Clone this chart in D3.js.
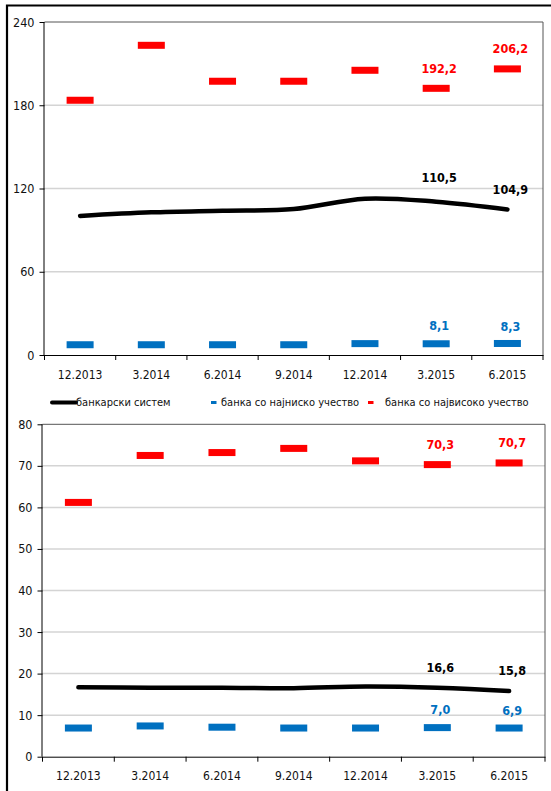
<!DOCTYPE html>
<html>
<head>
<meta charset="utf-8">
<script src="https://cdn.jsdelivr.net/npm/d3@7"></script>
<style>
  html, body { margin: 0; padding: 0; background: #fff; }
  svg text { font-family: "DejaVu Sans Condensed", "DejaVu Sans", sans-serif; font-stretch: condensed; }
</style>
</head>
<body>
<svg id="chart" width="551" height="791"></svg>
<script>
// Periods on the horizontal axis
const categories = ["12.2013", "3.2014", "6.2014", "9.2014", "12.2014", "3.2015", "6.2015"];

// Upper panel series
const systemTop = [100.2, 102.8, 104.0, 105.2, 112.7, 110.5, 104.9];
const lowestTop = [7.4, 7.4, 7.4, 7.4, 8.2, 8.1, 8.3];
const highestTop = [183.6, 223.2, 197.3, 197.3, 205.2, 192.2, 206.2];
const ticksTop = [0, 60, 120, 180, 240];

// Lower panel series
const systemBottom = [16.7, 16.6, 16.6, 16.5, 16.9, 16.6, 15.8];
const lowestBottom = [6.9, 7.4, 7.1, 6.9, 6.9, 7.0, 6.9];
const highestBottom = [61.2, 72.5, 73.2, 74.2, 71.2, 70.3, 70.7];
const ticksBottom = [0, 10, 20, 30, 40, 50, 60, 70, 80];

// Legend entries
const legendLabels = ["банкарски систем", "банка со најниско учество", "банка со највисоко учество"];

const RED = "#ff0000", BLUE = "#0070c0", BLACK = "#000000";
const fmt = v => d3.format(".1f")(v).replace(".", ",");

const svg = d3.select("#chart");

// Outer frame (left and top edges)
svg.append("path")
  .attr("d", "M7,800 L7,5.5 L560,5.5")
  .attr("fill", "none").attr("stroke", "#000").attr("stroke-width", 2.2);

function drawPanel(opt) {
  const g = svg.append("g");
  const x = d3.scaleBand().domain(categories).range([opt.left, opt.right]);
  const y = d3.scaleLinear().domain([0, opt.max]).range([opt.bottom, opt.top]);
  const cx = c => x(c) + x.bandwidth() / 2;

  // Gridlines
  g.selectAll("line.grid")
    .data(opt.ticks.filter(t => t > 0 && t < opt.max))
    .join("line")
    .attr("x1", opt.left).attr("x2", opt.right)
    .attr("y1", d => y(d)).attr("y2", d => y(d))
    .attr("stroke", "#d4d4d4").attr("stroke-width", 1.5);

  // Plot area border (top and right)
  g.append("path")
    .attr("d", `M${opt.left},${opt.top} L${opt.right},${opt.top} L${opt.right},${opt.bottom}`)
    .attr("fill", "none").attr("stroke", "#555").attr("stroke-width", 1);

  // Y axis
  const yAxis = g.append("g")
    .attr("transform", `translate(${opt.left},0)`)
    .call(d3.axisLeft(y).tickValues(opt.ticks).tickSize(5).tickPadding(5).tickFormat(d3.format("d")));
  yAxis.select(".domain").attr("stroke", "#000").attr("d", `M-0.5,${opt.bottom}V${opt.top}`);
  yAxis.selectAll("text").attr("font-size", 12.5).attr("fill", "#111")
    .attr("font-family", "\"DejaVu Sans Condensed\", \"DejaVu Sans\", sans-serif");

  // X axis: labels at band centres, ticks at band boundaries
  const xAxis = g.append("g")
    .attr("transform", `translate(0,${opt.bottom})`)
    .call(d3.axisBottom(x).tickSize(0).tickPadding(15));
  xAxis.select(".domain").attr("stroke", "#000");
  xAxis.selectAll("text").attr("font-size", 12).attr("fill", "#111")
    .attr("font-family", "\"DejaVu Sans Condensed\", \"DejaVu Sans\", sans-serif");
  const bounds = categories.map(c => x(c)).concat([opt.right]);
  g.selectAll("line.xtick").data(bounds).join("line")
    .attr("x1", d => d).attr("x2", d => d)
    .attr("y1", opt.bottom).attr("y2", opt.bottom + 5)
    .attr("stroke", "#000");

  // Series: lowest and highest share as short horizontal markers
  const mw = 27, mh = 7;
  [[opt.lowest, BLUE], [opt.highest, RED]].forEach(([vals, col]) => {
    g.selectAll(null).data(vals).join("rect")
      .attr("x", (d, i) => cx(categories[i]) - mw / 2)
      .attr("y", d => y(d) - mh / 2)
      .attr("width", mw).attr("height", mh)
      .attr("fill", col);
  });

  // Banking system line
  const line = d3.line()
    .x((d, i) => cx(categories[i]))
    .y(d => y(d))
    .curve(d3.curveCatmullRom.alpha(0.5));
  g.append("path")
    .datum(opt.system)
    .attr("d", line)
    .attr("fill", "none").attr("stroke", BLACK)
    .attr("stroke-width", 4.5).attr("stroke-linecap", "round");

  // Value labels for the last two periods (offset above each mark)
  const n = categories.length;
  [[opt.system, BLACK, opt.sysOffset], [opt.lowest, BLUE, [18, 17]], [opt.highest, RED, [20, 20]]]
    .forEach(([vals, col, off]) => {
      [n - 2, n - 1].forEach((i, k) => {
        g.append("text")
          .attr("x", cx(categories[i]) + 3)
          .attr("y", y(vals[i]) - off[k])
          .attr("dy", "0.35em")
          .attr("text-anchor", "middle")
          .attr("font-size", 12.5).attr("font-weight", "bold")
          .attr("fill", col)
          .text(fmt(vals[i]));
      });
    });
  return { x, y };
}

drawPanel({
  left: 44.5, right: 543, top: 22, bottom: 355, max: 240,
  ticks: ticksTop, system: systemTop, lowest: lowestTop, highest: highestTop,
  sysOffset: [24, 20]
});

drawPanel({
  left: 42.5, right: 545, top: 424.3, bottom: 756.7, max: 80,
  ticks: ticksBottom, system: systemBottom, lowest: lowestBottom, highest: highestBottom,
  sysOffset: [20, 20]
});

// Legend below the upper panel
const leg = svg.append("g").attr("transform", "translate(0,402.5)");
leg.append("line").attr("x1", 52).attr("x2", 76).attr("y1", 0).attr("y2", 0)
  .attr("stroke", BLACK).attr("stroke-width", 4).attr("stroke-linecap", "round");
leg.append("rect").attr("x", 211).attr("y", -1.5).attr("width", 5.5).attr("height", 3).attr("fill", BLUE);
leg.append("rect").attr("x", 368).attr("y", -1.5).attr("width", 5.5).attr("height", 3).attr("fill", RED);
leg.selectAll("text.legend").data(legendLabels).join("text")
  .attr("x", (d, i) => [76, 221, 385][i]).attr("y", 0).attr("dy", "0.35em")
  .attr("font-size", 11).attr("fill", "#111").text(d => d);
</script>
</body>
</html>
